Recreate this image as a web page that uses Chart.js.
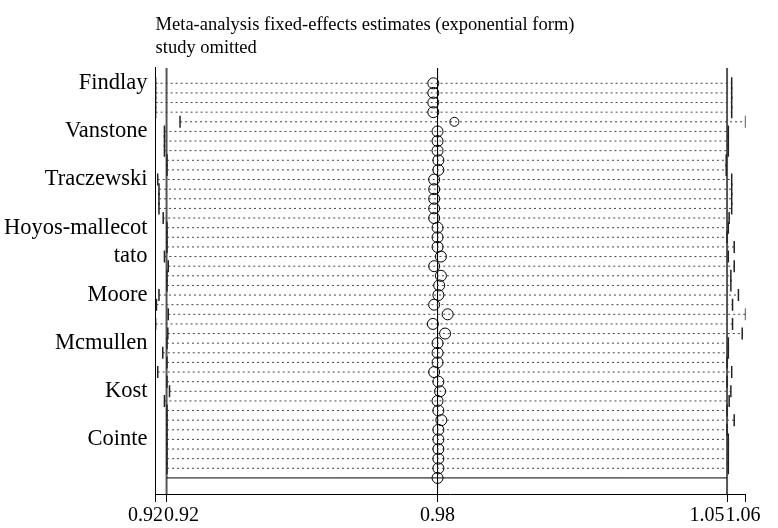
<!DOCTYPE html>
<html>
<head>
<meta charset="utf-8">
<script src="https://cdn.jsdelivr.net/npm/chart.js@4"></script>
<style>
  html, body { margin: 0; padding: 0; background: #fff; }
</style>
</head>
<body>
<canvas id="chart" width="778" height="528"></canvas>
<script>
// study labels and the rows they sit on (row 1 = top)
const labelNames = ["Findlay", "Vanstone", "Traczewski", "Hoyos-mallecot", "tato", "Moore", "Mcmullen", "Kost", "Cointe"];
const labelRows = [1, 6, 11, 16, 19, 23, 28, 33, 38];

// estimates with one study omitted (exponential form), one value per row
const lowerCI = [
  0.9152, 0.9152, 0.9152, 0.9152, 0.9210, 0.9173, 0.9173, 0.9173, 0.9179, 0.9179,
  0.9157, 0.9160, 0.9160, 0.9160, 0.9170, 0.9179, 0.9179, 0.9179, 0.9173, 0.9182,
  0.9179, 0.9179, 0.9160, 0.9154, 0.9182, 0.9152, 0.9181, 0.9179, 0.9169, 0.9179,
  0.9157, 0.9179, 0.9185, 0.9173, 0.9179, 0.9179, 0.9179, 0.9179, 0.9179, 0.9179,
  0.9179
];
const estimate = [
  0.9811, 0.9811, 0.9811, 0.9811, 0.9861, 0.9821, 0.9821, 0.9821, 0.9823, 0.9823,
  0.9813, 0.9813, 0.9813, 0.9813, 0.9813, 0.9821, 0.9821, 0.9821, 0.9829, 0.9813,
  0.9829, 0.9825, 0.9823, 0.9813, 0.9845, 0.9810, 0.9839, 0.9821, 0.9821, 0.9821,
  0.9813, 0.9823, 0.9827, 0.9821, 0.9823, 0.9830, 0.9823, 0.9823, 0.9823, 0.9823,
  0.9823
];
const upperCI = [
  1.0519, 1.0519, 1.0519, 1.0519, 1.0552, 1.0511, 1.0511, 1.0511, 1.0506, 1.0506,
  1.0519, 1.0519, 1.0519, 1.0519, 1.0513, 1.0511, 1.0508, 1.0525, 1.0511, 1.0525,
  1.0517, 1.0517, 1.0535, 1.0521, 1.0552, 1.0521, 1.0544, 1.0511, 1.0511, 1.0508,
  1.0519, 1.0508, 1.0517, 1.0513, 1.0508, 1.0525, 1.0508, 1.0511, 1.0511, 1.0511,
  1.0511
];

// combined (all studies) estimate
const combinedLower = 0.9178;
const combinedEst = 0.9821;
const combinedUpper = 1.0508;

// x axis ticks
const tickValues = [0.9152, 0.9178, 0.9821, 1.0508, 1.0552];
const tickLabels = ["0.92", "0.92", "0.98", "1.05", "1.06"];

const serif = "'Liberation Serif', 'Times New Roman', serif";
const combinedRow = lowerCI.length + 1;
const yMin = -0.59;
const yMax = 43.67;

// dotted CI lines, broken between rows
let ciLines = [];
let caps = [];
let circles = [];
for (let i = 0; i < lowerCI.length; i++) {
  let row = i + 1;
  ciLines.push({ x: lowerCI[i], y: row }, { x: upperCI[i], y: row }, { x: null, y: null });
  caps.push({ x: lowerCI[i], y: row }, { x: upperCI[i], y: row });
  circles.push({ x: estimate[i], y: row });
}
circles.push({ x: combinedEst, y: combinedRow });

function vline(v) {
  return [{ x: v, y: yMin }, { x: v, y: yMax }];
}

// nudges the crowded tick labels apart, like the original
const labelPad = [["", "    "], ["      ", ""], ["", ""], ["", "        "], ["", " "]];

let ctx = document.getElementById("chart").getContext("2d");

let config = {
  type: "line",
  data: {
    datasets: [
      {
        data: circles,
        showLine: false,
        pointRadius: circles.map((p, i) => (i === 4 ? 4.5 : 5.5)),
        pointBorderColor: "#000",
        pointBackgroundColor: "rgba(0,0,0,0)",
        pointBorderWidth: 1,
        order: 0,
      },
      {
        data: caps,
        showLine: false,
        pointStyle: "line",
        rotation: 90,
        pointRadius: 6,
        pointBorderColor: "#222",
        pointBorderWidth: 1.5,
        order: 1,
      },
      {
        data: ciLines,
        borderColor: "#444",
        borderWidth: 1,
        borderDash: [2, 3],
        pointRadius: 0,
        spanGaps: false,
        order: 2,
      },
      {
        data: [{ x: combinedLower, y: combinedRow }, { x: combinedUpper, y: combinedRow }],
        borderColor: "#000",
        borderWidth: 1,
        pointRadius: 0,
        order: 3,
      },
      {
        data: vline(combinedEst),
        borderColor: "#000",
        borderWidth: 1,
        pointRadius: 0,
        order: 4,
      },
      {
        data: vline(combinedLower),
        borderColor: "#555",
        borderWidth: 2,
        pointRadius: 0,
        order: 5,
      },
      {
        data: vline(combinedUpper),
        borderColor: "#555",
        borderWidth: 2,
        pointRadius: 0,
        order: 6,
      },
    ],
  },
  options: {
    responsive: false,
    animation: false,
    devicePixelRatio: 1,
    layout: { padding: { left: 0, right: 32.4, top: 0, bottom: 0 } },
    plugins: {
      legend: { display: false },
      tooltip: { enabled: false },
      title: {
        display: true,
        text: ["Meta-analysis fixed-effects estimates (exponential form)", "study omitted"],
        align: "start",
        fullSize: false,
        color: "#000",
        font: { family: serif, size: 18.5, weight: "normal", lineHeight: 1.27 },
        padding: { top: 13, bottom: 8 },
      },
    },
    scales: {
      x: {
        type: "linear",
        min: tickValues[0],
        max: tickValues[tickValues.length - 1],
        afterBuildTicks: (scale) => {
          scale.ticks = tickValues.map((v) => ({ value: v }));
        },
        afterFit: (scale) => {
          scale.height = 34;
        },
        ticks: {
          autoSkip: false,
          maxRotation: 0,
          padding: 2,
          color: "#000",
          font: { family: serif, size: 20 },
          callback: (val, idx) => labelPad[idx][0] + tickLabels[idx] + labelPad[idx][1],
        },
        grid: { display: true, drawOnChartArea: false, drawTicks: true, tickLength: 8, color: "#000", lineWidth: 1 },
        border: { display: true, color: "#000", width: 1 },
      },
      y: {
        type: "linear",
        reverse: true,
        min: yMin,
        max: yMax,
        afterBuildTicks: (scale) => {
          scale.ticks = labelRows.map((v) => ({ value: v }));
        },
        afterFit: (scale) => {
          scale.width = 155.6;
        },
        ticks: {
          autoSkip: false,
          padding: 8,
          color: "#000",
          font: { family: serif, size: 22.5 },
          callback: (val, idx) => labelNames[idx],
        },
        grid: { display: false, drawTicks: false },
        border: { display: true, color: "#000", width: 1 },
      },
    },
  },
};

new Chart(ctx, config);
</script>
</body>
</html>
